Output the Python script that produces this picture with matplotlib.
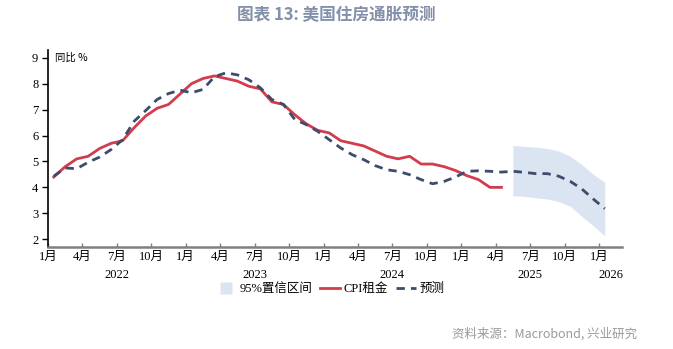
import numpy as np
import matplotlib
matplotlib.use("Agg")
import matplotlib.pyplot as plt
from matplotlib.lines import Line2D

plt.rcParams['font.family'] = ['Liberation Serif', 'Noto Sans CJK SC', 'DejaVu Sans']

# Monthly data starting Jan 2022 (index 0)
cpi_rent = [4.4, 4.8, 5.1, 5.2, 5.5, 5.7, 5.8, 6.3, 6.75, 7.05, 7.2, 7.6,
            8.0, 8.2, 8.3, 8.2, 8.1, 7.9, 7.8, 7.3, 7.2, 6.8, 6.45, 6.2,
            6.1, 5.8, 5.7, 5.6, 5.4, 5.2, 5.1, 5.2, 4.9, 4.9, 4.8, 4.65,
            4.45, 4.3, 4.0, 4.0]
forecast = [4.43, 4.75, 4.72, 4.97, 5.17, 5.46, 5.84, 6.55, 6.96, 7.39, 7.62, 7.75,
            7.65, 7.78, 8.27, 8.42, 8.34, 8.15, 7.84, 7.39, 7.2, 6.62, 6.42, 6.16,
            5.84, 5.52, 5.26, 5.07, 4.84, 4.68, 4.62, 4.49, 4.3, 4.14, 4.23, 4.4,
            4.62, 4.64, 4.62, 4.59, 4.62, 4.58, 4.53, 4.53, 4.43, 4.23, 3.94, 3.55,
            3.18]
band_start = 40  # May 2025
band_upper = [5.62, 5.58, 5.55, 5.5, 5.4, 5.2, 4.88, 4.5, 4.2]
band_lower = [3.68, 3.65, 3.6, 3.55, 3.45, 3.27, 2.88, 2.52, 2.13]

month_labels = ['1月', '4月', '7月', '10月']
years = ['2022', '2023', '2024', '2025', '2026']

fig = plt.figure(figsize=(6.73, 3.49), dpi=100)
ax = fig.add_axes([48/673, 1-247/349, (622-48)/673, (247-50)/349])

x_cpi = np.arange(len(cpi_rent)) + 0.5
x_fc = np.arange(len(forecast)) + 0.5
x_band = np.arange(band_start, band_start + len(band_upper)) + 0.5

ax.fill_between(x_band, band_lower, band_upper, color='#dbe4f1', lw=0, zorder=1)
ax.plot(x_cpi, cpi_rent, color='#d23c4c', lw=2.0, zorder=3)
ax.plot(x_fc, forecast, color='#3d4b6c', lw=2.0, ls=(0, (3, 2.2)), zorder=4)

ax.set_xlim(0, 50)
ax.set_ylim(1.7, 9.3)
ax.set_yticks(range(2, 10))
ax.tick_params(axis='y', direction='out', length=4, width=1, labelsize=9, pad=3)

quarter_ticks = np.arange(0, 50, 3)
ax.set_xticks(quarter_ticks)
ax.set_xticklabels([month_labels[(t % 12) // 3] for t in quarter_ticks])
ax.tick_params(axis='x', direction='in', length=3, width=1, color='#808080',
               labelsize=9, pad=3)
# longer crossing ticks at January
ax.set_xticks(np.arange(0, 50, 12), minor=True)
ax.tick_params(axis='x', which='minor', direction='inout', length=9, width=1.2,
               color='#333333')

for i, yr in enumerate(years):
    xc = i * 12 + 6 if i < len(years) - 1 else (48 + 50) / 2
    ax.text(xc, -0.11, yr, transform=ax.get_xaxis_transform(),
            ha='center', va='top', fontsize=9)

for s in ['top', 'right']:
    ax.spines[s].set_visible(False)
ax.spines['left'].set_color('black')
ax.spines['left'].set_linewidth(1.2)
ax.spines['bottom'].set_color('#808080')
ax.spines['bottom'].set_linewidth(1.8)

ax.text(0.6, 9.0, '同比 %', fontsize=7.5, ha='left', va='center',
        family=['Noto Sans CJK SC'])

fig.text(0.5, 1-15/349, '图表 13: 美国住房通胀预测', ha='center', va='center',
         fontsize=12, fontweight='bold', color='#8290aa',
         family=['Noto Sans CJK SC'])

handles = [Line2D([0], [0], color='none', marker='s', markersize=8,
                  markerfacecolor='#dbe4f1', markeredgecolor='none'),
           Line2D([0], [0], color='#d23c4c', lw=2),
           Line2D([0], [0], color='#3d4b6c', lw=2, ls=(0, (3, 2.2)))]
labels = ['95%置信区间', 'CPI租金', '预测']
leg = fig.legend(handles, labels, loc='center', bbox_to_anchor=(330/673, 1-289/349),
                 ncol=3, frameon=False, handlelength=1.6,
                 handletextpad=0.3, columnspacing=0.6,
                 prop={'family': ['Liberation Serif', 'Noto Sans CJK SC'], 'size': 9})

fig.text(637/673, 1-334/349, '资料来源：Macrobond, 兴业研究', ha='right', va='center',
         fontsize=9, color='#9a9a9a', family=['Noto Sans CJK SC'])

fig.savefig('out.png', dpi=100)
